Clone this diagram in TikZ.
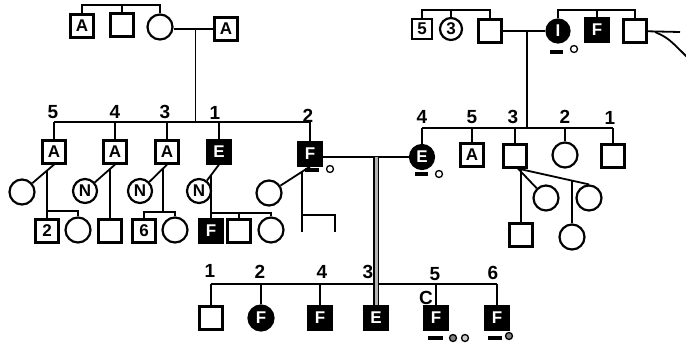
\documentclass[tikz,border=0pt]{standalone}
\usepackage{fontspec}
\setmainfont{Liberation Sans}
\usetikzlibrary{calc}
\begin{document}
\begin{tikzpicture}[x=1pt,y=-1pt,
  ln/.style={line width=1.8pt},
  sq/.style={draw, line width=2.2pt, fill=white, minimum size=23pt, inner sep=0pt,
    font=\fontsize{17}{17}\selectfont\bfseries},
  fsq/.style={sq, fill=black, text=white},
  ci/.style={circle, draw, line width=2.2pt, fill=white, minimum size=25pt, inner sep=0pt,
    font=\fontsize{17}{17}\selectfont\bfseries},
  fci/.style={ci, fill=black, text=white},
  num/.style={inner sep=0pt, font=\fontsize{19}{19}\selectfont\bfseries},
  bar/.style={line width=3.5pt},
  dot/.style={circle, draw, line width=1.3pt, minimum size=7pt, inner sep=0pt, fill=white},
  dbl/.style={double=gray!60, double distance=3pt, line width=1.3pt}
]
\useasboundingbox (0,0) rectangle (686,346);

% ---------- first generation, left ----------
\node[sq] (tA1) at (82,26) {A};
\node[sq] (tS1) at (122,25) {};
\node[ci] (tC1) at (160,27) {};
\node[sq] (tA2) at (226,29) {A};
\coordinate (tlbar) at (0,5);
\draw[ln] (tA1.north) -- (tA1.north |- tlbar) -| (tC1.north);
\draw[ln] (tS1.north) -- (tS1.north |- tlbar);
\draw[ln] (tC1.east |- tA2.west) -- (tA2.west);
\coordinate (tlm) at ($(tC1.east |- tA2.west)!0.55!(tA2.west)$);
\coordinate (L2bar) at (0,122);
\draw[ln] (tlm) -- (tlm |- L2bar);

% ---------- first generation, right ----------
\node[sq, minimum size=20pt] (q5) at (422,29) {5};
\node[ci, minimum size=22pt] (q3) at (451,29) {3};
\node[sq] (q0) at (490,31) {};
\node[fci, minimum size=23pt] (qI) at (558,31) {I};
\node[fsq] (qF) at (597,30) {F};
\node[sq] (qE) at (635,31) {};
\coordinate (qbar) at (0,10);
\draw[ln] (q5.north) -- (q5.north |- qbar) -| (q0.north);
\draw[ln] (q3.north) -- (q3.north |- qbar);
\draw[ln] (qI.north) -- (qI.north |- qbar) -| (qE.north);
\draw[ln] (qF.north) -- (qF.north |- qbar);
\draw[ln] (q0) -- (qI);
\coordinate (qm) at ($(q0.east)!0.57!(qI.west)$);
\coordinate (R2bar) at (0,128);
\draw[ln] (qm) -- (qm |- R2bar);
\coordinate (qend) at (680,32);
\draw[ln] (qE) -- (qend);
\coordinate (qc1) at (655,32);
\coordinate (qc2) at (688,58);
\draw[ln] (qc1) .. controls (668,38) .. (qc2);
\coordinate (qId) at (550,52);
\draw[bar] (qId) -- ++(13,0);
\node[dot] (qIo) at (574,49) {};

% ---------- second generation, left ----------
\node[sq] (c5) at (54,152) {A};
\node[sq] (c4) at (115,152) {A};
\node[sq] (c3) at (167,152) {A};
\node[fsq] (c1) at (219,152) {E};
\node[fsq] (c2) at (310,154) {F};
\draw[ln] (c5.north |- L2bar) -- (c2.north |- L2bar);
\foreach \n in {c5,c4,c3,c1,c2} \draw[ln] (\n.north) -- (\n.north |- L2bar);
\node[num] (n5) at (53,112) {5};
\node[num] (n4) at (115,112) {4};
\node[num] (n3) at (165,112) {3};
\node[num] (n1) at (215,113) {1};
\node[num] (n2) at (308,116) {2};

% spouses
\node[ci] (s5) at (22,192) {};
\node[ci, minimum size=24pt] (s4) at (85,191) {N};
\node[ci, minimum size=24pt] (s3) at (140,191) {N};
\node[ci, minimum size=24pt] (s1) at (199,191) {N};
\node[ci] (s2) at (269,193) {};
\foreach \s/\c in {s5/c5,s4/c4,s3/c3,s1/c1,s2/c2} \draw[ln] (\s) -- (\c.south);

% children of 5
\node[sq] (k5a) at (47,231) {2};
\node[ci] (k5b) at (78,230) {};
\coordinate (m5) at ($(s5)!0.78!(c5.south)$);
\coordinate (b5bar) at (0,211);
\draw[ln] (m5) -- (m5 |- k5a.north);
\draw[ln] (k5a.north |- b5bar) -| (k5b.north);

% child of 4
\node[sq] (k4) at (110,231) {};
\coordinate (m4) at ($(s4)!0.83!(c4.south)$);
\draw[ln] (m4) -- (m4 |- k4.north);

% children of 3
\node[sq] (k3a) at (144,231) {6};
\node[ci] (k3b) at (175,230) {};
\coordinate (m3) at ($(s3)!0.85!(c3.south)$);
\coordinate (b3bar) at (0,212);
\draw[ln] (m3) -- (m3 |- b3bar);
\draw[ln] (k3a.north) -- (k3a.north |- b3bar) -| (k3b.north);

% children of 1
\node[fsq] (k1a) at (211,231) {F};
\node[sq] (k1b) at (239,231) {};
\node[ci] (k1c) at (271,230) {};
\coordinate (m1) at ($(s1)!0.6!(c1.south)$);
\coordinate (b1bar) at (0,213);
\draw[ln] (m1) -- (m1 |- k1a.north);
\draw[ln] (k1a.north |- b1bar) -| (k1c.north);
\draw[ln] (k1b.north) -- (k1b.north |- b1bar);

% open sibship of 2
\coordinate (m2) at ($(s2)!0.8!(c2.south)$);
\coordinate (e2) at (335,232);
\coordinate (b2bar) at (0,215);
\draw[ln] (m2) -- (m2 |- e2);
\draw[ln] (m2 |- b2bar) -| (e2);
\coordinate (c2d) at (305,170);
\draw[bar] (c2d) -- ++(14,0);
\node[dot] (c2o) at (330,169) {};

% ---------- second generation, right ----------
\node[fci, minimum size=24pt] (r4) at (422,157) {E};
\node[sq] (r5) at (472,155) {A};
\node[sq] (r3) at (515,156) {};
\node[ci] (r2) at (565,155) {};
\node[sq] (r1) at (613,156) {};
\draw[ln] (r4.north |- R2bar) -- (r1.north |- R2bar);
\foreach \n in {r4,r5,r3,r2,r1} \draw[ln] (\n.north) -- (\n.north |- R2bar);
\node[num] (p4) at (422,117) {4};
\node[num] (p5) at (472,117) {5};
\node[num] (p3) at (513,117) {3};
\node[num] (p2) at (565,117) {2};
\node[num] (p1) at (610,118) {1};
\coordinate (r4d) at (415,174);
\draw[bar] (r4d) -- ++(13,0);
\node[dot] (r4o) at (439,174) {};

% marriage of 2 and 4
\draw[ln] (c2.east |- r4.west) -- (r4.west);

% descendants of 3 (right)
\node[ci] (rc1) at (546,198) {};
\node[ci] (rc2) at (589,198) {};
\node[ci] (rc3) at (572,237) {};
\node[sq] (rsq) at (521,235) {};
\coordinate (r3f) at ($(r3.south)+(3,0)$);
\draw[ln] (r3f) -- (rc2.north);
\draw[ln] (r3f) -- (rc1);
\coordinate (rm) at ($(r3f)!0.76!(rc2.north)$);
\draw[ln] (rm) -- (rm |- rc3.north);
\draw[ln] (rsq.north |- r3.south) -- (rsq.north);

% ---------- third generation ----------
\node[sq] (b1) at (211,318) {};
\node[fci] (b2) at (261,318) {F};
\node[fsq] (b4) at (320,318) {F};
\node[fsq] (b3) at (376,318) {E};
\node[fsq] (b5) at (436,318) {F};
\node[fsq] (b6) at (497,318) {F};
\coordinate (Bbar) at (0,284);
\draw[ln] (b1.north |- Bbar) -- (b6.north |- Bbar);
\foreach \n in {b1,b2,b4,b5,b6} \draw[ln] (\n.north) -- (\n.north |- Bbar);
\draw[dbl] (b3.north |- r4.west) -- (b3.north);
\node[num] (o1) at (210,271) {1};
\node[num] (o2) at (260,272) {2};
\node[num] (o4) at (322,272) {4};
\node[num] (o3) at (368,272) {3};
\node[num] (o5) at (435,274) {5};
\node[num] (o6) at (493,273) {6};
\node[num] (oc) at (426,298) {C};
\coordinate (b5d) at (428,338);
\draw[bar] (b5d) -- ++(15,0);
\node[dot, fill=gray] (b5o1) at (453,338) {};
\node[dot, fill=gray!40] (b5o2) at (465,338) {};
\coordinate (b6d) at (488,338);
\draw[bar] (b6d) -- ++(14,0);
\node[dot, fill=gray] (b6o) at (509,336) {};
\end{tikzpicture}
\end{document}
